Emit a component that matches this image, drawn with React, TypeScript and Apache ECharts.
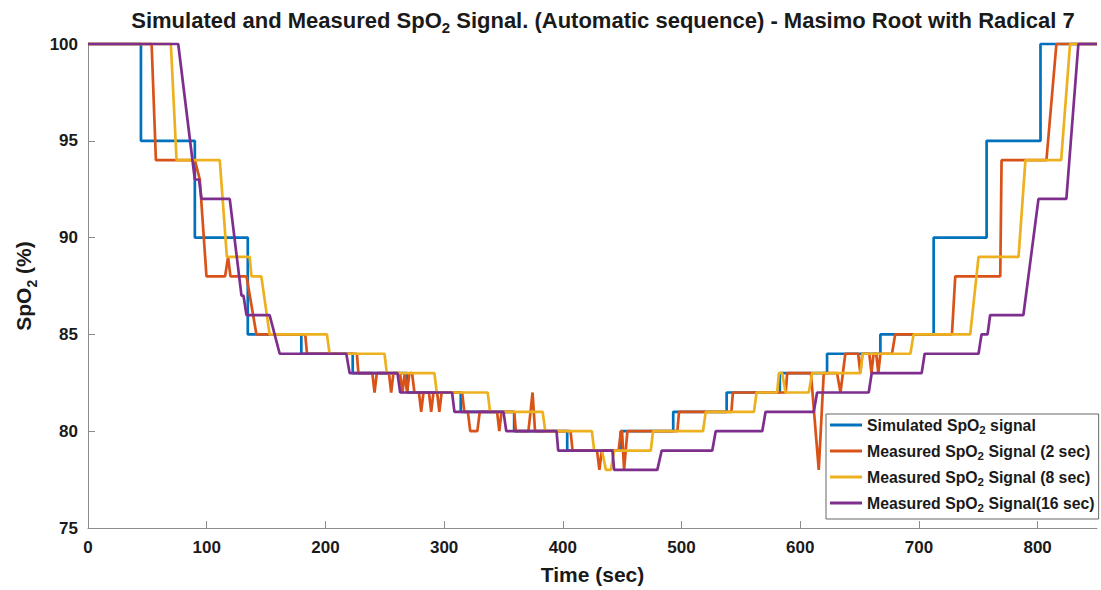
import React, { useEffect, useRef } from 'react';
import * as echarts from 'echarts';

const xTicks = [0, 100, 200, 300, 400, 500, 600, 700, 800];
const yTicks = [75, 80, 85, 90, 95, 100];

const seriesNames = [
  'Simulated SpO2 signal',
  'Measured SpO2 Signal (2 sec)',
  'Measured SpO2 Signal (8 sec)',
  'Measured SpO2 Signal(16 sec)',
];
const seriesColors = ['#0072BD', '#D95319', '#EDB120', '#7E2F8E'];

// [time (sec), SpO2 (%)]
const simulated: [number, number][] = [
  [0, 100], [44.6, 100], [44.6, 95], [90, 95], [90, 90], [134.6, 90], [134.6, 85],
  [179.7, 85], [179.7, 84], [223, 84], [223, 83], [269, 83], [269, 82], [314, 82],
  [314, 81], [359, 81], [359, 80], [403.7, 80], [403.7, 79], [448.9, 79], [448.9, 80],
  [493, 80], [493, 81], [538, 81], [538, 82], [582.8, 82], [582.8, 83], [622.6, 83],
  [622.6, 84], [667.5, 84], [667.5, 85], [712.4, 85], [712.4, 90], [757, 90], [757, 95],
  [802.4, 95], [802.4, 100], [850, 100],
];

const measured2: [number, number][] = [
  [0, 100], [53.6, 100], [57.2, 94], [90, 94], [94.2, 93], [99.8, 88], [115.5, 88],
  [118, 89], [120, 88], [133.5, 88], [141.9, 85], [183, 85], [184.5, 84], [226.5, 84],
  [227.8, 83], [239.5, 83], [241.4, 82], [243.3, 83], [253.5, 83], [255.4, 82], [257.3, 83],
  [262.8, 83], [264.9, 82], [266.8, 83], [268.8, 82], [270.8, 83], [273, 83], [275, 82],
  [278.8, 82], [280.7, 81], [282.6, 82], [287.2, 82], [289.1, 81], [291, 82], [294.1, 82],
  [296, 81], [297.9, 82], [315.2, 82], [317, 81], [320, 81], [322, 80], [328, 80],
  [330, 81], [344.6, 81], [346.5, 80], [348.4, 81], [359, 81], [360.5, 80], [371, 80],
  [372.8, 81], [374.5, 82], [376.6, 80], [406.5, 80], [408.2, 79], [428.8, 79], [430.8, 78],
  [432.8, 79], [447, 79], [448.9, 80], [449.9, 80], [451.6, 78], [454.4, 80], [496.5, 80],
  [497.9, 81], [542, 81], [543.3, 82], [587.8, 82], [589, 83], [609, 83], [615.6, 78],
  [619.8, 83], [631, 83], [633.9, 82], [638, 84], [648.8, 84], [650.6, 83], [652.3, 84],
  [658.2, 84], [660, 83], [661.8, 84], [664, 84], [665.8, 83], [667.5, 84], [677.3, 84],
  [680, 85], [727.8, 85], [730.6, 88], [768.5, 88], [769.6, 94], [807.4, 94], [815.8, 100],
  [850, 100],
];

const measured8: [number, number][] = [
  [0, 100], [69.8, 100], [74.6, 94], [111, 94], [117, 89], [136.2, 89], [137.7, 88],
  [146, 88], [153, 85], [201.3, 85], [203.5, 84], [249.8, 84], [251.7, 83], [291.8, 83],
  [293.8, 82], [336.7, 82], [338.7, 81], [383, 81], [385.2, 80], [424.5, 80], [426.4, 79],
  [433, 79], [436.3, 78], [440.5, 78], [443.2, 79], [474.1, 79], [476, 80], [518.1, 80],
  [520.4, 81], [561, 81], [563.2, 82], [580.6, 82], [582, 83], [584.8, 83], [587.6, 82],
  [607.2, 82], [610, 83], [650.7, 83], [652.6, 84], [692.8, 84], [695.5, 85], [743.2, 85],
  [750.2, 89], [783.9, 89], [789.7, 94], [819.8, 94], [827.3, 100], [850, 100],
];

const measured16: [number, number][] = [
  [0, 100], [76, 100], [90, 93], [93.5, 93], [95.6, 92], [119.4, 92], [129.3, 87],
  [131, 87], [133.5, 86], [153, 86], [161.5, 84], [217.6, 84], [220.4, 83], [260.7, 83],
  [263, 82], [306.7, 82], [308.7, 81], [350, 81], [352.4, 80], [394.7, 80], [396.1, 79],
  [441.8, 79], [443.2, 78], [479.6, 78], [483.3, 79], [525.9, 79], [528.8, 80], [568, 80],
  [570.8, 81], [611.4, 81], [614.2, 82], [657.7, 82], [660.2, 83], [702.3, 83], [704.8, 84],
  [750.2, 84], [752.7, 85], [757.8, 85], [760, 86], [788, 86], [800.7, 92], [824.2, 92],
  [834.3, 100], [850, 100],
];

const allData = [simulated, measured2, measured8, measured16];

const FONT = 'Liberation Sans, Arial, sans-serif';
const TXT = '#1a1a1a';

function subRich(name: string) {
  const i = name.indexOf('SpO2');
  const before = name.slice(0, i + 3);
  const after = name.slice(i + 4);
  return '{t|' + before + '}{s|2}{t|' + after + '}';
}

export default function App() {
  const ref = useRef<HTMLDivElement>(null);
  useEffect(() => {
    const chart = echarts.init(ref.current!, null, { renderer: 'svg' });
    chart.setOption({
      animation: false,
      backgroundColor: '#ffffff',
      title: {
        text: '{t|Simulated and Measured SpO}{s|2}{t| Signal. (Automatic sequence) - Masimo Root with Radical 7}',
        left: 598,
        textAlign: 'center',
        top: 0,
        textStyle: {
          rich: {
            t: { fontFamily: FONT, fontWeight: 'bold', fontSize: 22, color: TXT, lineHeight: 30, verticalAlign: 'middle' },
            s: { fontFamily: FONT, fontWeight: 'bold', fontSize: 15, color: TXT, lineHeight: 30, verticalAlign: 'bottom' },
          },
        },
      },
      legend: {
        data: seriesNames,
        orient: 'vertical',
        left: 826,
        top: 414,
        icon: 'rect',
        itemWidth: 32,
        itemHeight: 3,
        itemGap: 7,
        padding: [3, 4, 5, 4],
        borderColor: '#666',
        borderWidth: 1,
        backgroundColor: '#fff',
        formatter: (name: string) => subRich(name),
        textStyle: {
          rich: {
            t: { fontFamily: FONT, fontWeight: 'bold', fontSize: 15.8, color: TXT, lineHeight: 22, verticalAlign: 'middle' },
            s: { fontFamily: FONT, fontWeight: 'bold', fontSize: 11.5, color: TXT, lineHeight: 22, verticalAlign: 'bottom' },
          },
        },
      },
      grid: { left: 88, top: 44, width: 1009, height: 485 },
      xAxis: {
        type: 'value',
        min: 0,
        max: 850,
        interval: 100,
        name: 'Time (sec)',
        nameLocation: 'middle',
        nameGap: 36,
        nameTextStyle: { fontFamily: FONT, fontWeight: 'bold', fontSize: 21, color: TXT },
        axisLine: { show: true, lineStyle: { color: '#8c8c8c', width: 1 } },
        axisTick: { show: true, inside: true, length: 7, customValues: xTicks, lineStyle: { color: '#8c8c8c' } },
        axisLabel: { customValues: xTicks, fontFamily: FONT, fontWeight: 'bold', fontSize: 17, color: TXT, margin: 11 },
        splitLine: { show: false },
      },
      yAxis: {
        type: 'value',
        min: 75,
        max: 100,
        interval: 5,
        name: '{t|SpO}{s|2}{t| (%)}',
        nameLocation: 'middle',
        nameGap: 48,
        nameTextStyle: {
          rich: {
            t: { fontFamily: FONT, fontWeight: 'bold', fontSize: 21, color: TXT, lineHeight: 30, verticalAlign: 'middle' },
            s: { fontFamily: FONT, fontWeight: 'bold', fontSize: 14, color: TXT, lineHeight: 30, verticalAlign: 'bottom' },
          },
        },
        axisLine: { show: true, lineStyle: { color: '#8c8c8c', width: 1 } },
        axisTick: { show: true, inside: true, length: 7, customValues: yTicks, lineStyle: { color: '#8c8c8c' } },
        axisLabel: { customValues: yTicks, fontFamily: FONT, fontWeight: 'bold', fontSize: 17, color: TXT, margin: 10 },
        splitLine: { show: false },
      },
      series: allData.map((d, i) => ({
        name: seriesNames[i],
        type: 'line',
        data: d,
        symbol: 'none',
        clip: false,
        color: seriesColors[i],
        lineStyle: { color: seriesColors[i], width: 2.7 },
      })),
    });
    return () => chart.dispose();
  }, []);
  return (
    <div
      ref={ref}
      style={{ position: 'fixed', left: 0, top: 0, width: 1101, height: 590, background: '#fff' }}
    />
  );
}
